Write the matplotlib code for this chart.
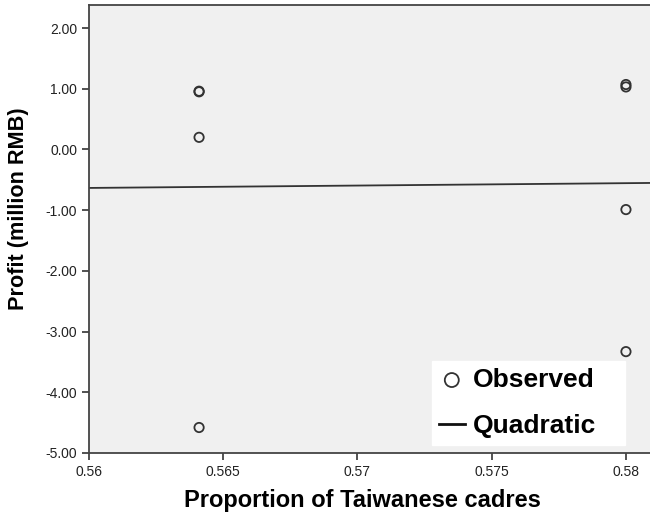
import matplotlib.pyplot as plt
import numpy as np

plt.rcParams['font.family'] = ['Liberation Sans', 'DejaVu Sans']

# observed points (proportion of Taiwanese cadres vs profit)
prop = [0.5641, 0.5641, 0.5641, 0.5641, 0.58, 0.58, 0.58, 0.58]
profit = [0.95, 0.96, 0.20, -4.58, 1.03, 1.07, -0.99, -3.33]

x_ticks = [0.56, 0.565, 0.57, 0.575, 0.58]
x_tick_labels = ['0.56', '0.565', '0.57', '0.575', '0.58']
y_ticks = [2, 1, 0, -1, -2, -3, -4, -5]

W, H = 650, 517
fig = plt.figure(figsize=(W / 100, H / 100), dpi=100)
# axes runs past the right edge of the image, like the original crop
ax = fig.add_axes([89 / W, 64 / H, (652.8 - 89) / W, (453 - 5) / H])
ax.set_facecolor('#f0f0f0')

# quadratic fit (only two distinct x values, so it reduces to a line)
coef = np.polyfit(prop, profit, 1)
xs = np.linspace(0.56, 0.581, 50)
ax.plot(xs, np.polyval(coef, xs), color='#333333', lw=1.3, label='Quadratic', zorder=2)

ax.scatter(prop, profit, s=45, facecolors='none', edgecolors='#333333',
           linewidths=1.3, label='Observed', zorder=3)

ax.set_xlim(0.56, 0.581)
ax.set_ylim(-5, 2.38)
ax.set_xticks(x_ticks)
ax.set_xticklabels(x_tick_labels)
ax.set_yticks(y_ticks)
ax.set_yticklabels([f'{v:.2f}' for v in y_ticks])
ax.tick_params(direction='out', length=5, width=1.2, colors='#333333',
               labelsize=10, labelcolor='#222222')

for side in ['left', 'bottom', 'top']:
    ax.spines[side].set_color('#444444')
    ax.spines[side].set_linewidth(1.3)
ax.spines['right'].set_visible(False)

fig.text(362 / W, 1 - 501 / H, 'Proportion of Taiwanese cadres', ha='center',
         va='center', fontsize=17, fontweight='bold')
fig.text(19 / W, 1 - 209 / H, 'Profit (million RMB)', ha='center', va='center',
         rotation=90, fontsize=15.6, fontweight='bold')

handles, labels = ax.get_legend_handles_labels()
leg = ax.legend(handles[::-1], labels[::-1], loc='lower left',
                bbox_to_anchor=(432 / W, 1 - 445 / H, (625 - 432) / W, (445 - 360) / H),
                bbox_transform=fig.transFigure, mode='expand',
                prop={'size': 19, 'weight': 'bold'}, frameon=True, fancybox=False,
                borderpad=0.25, handlelength=1.0, handletextpad=0.3,
                labelspacing=0.85, borderaxespad=0, markerscale=1.5)
leg.get_frame().set_facecolor('white')
leg.get_frame().set_edgecolor('white')
leg.get_frame().set_alpha(1)
for h in leg.legend_handles:
    if hasattr(h, 'set_linewidth') and h.get_label() == 'Quadratic':
        h.set_linewidth(2)
        h.set_color('#111111')

fig.savefig('out.png', dpi=100)
